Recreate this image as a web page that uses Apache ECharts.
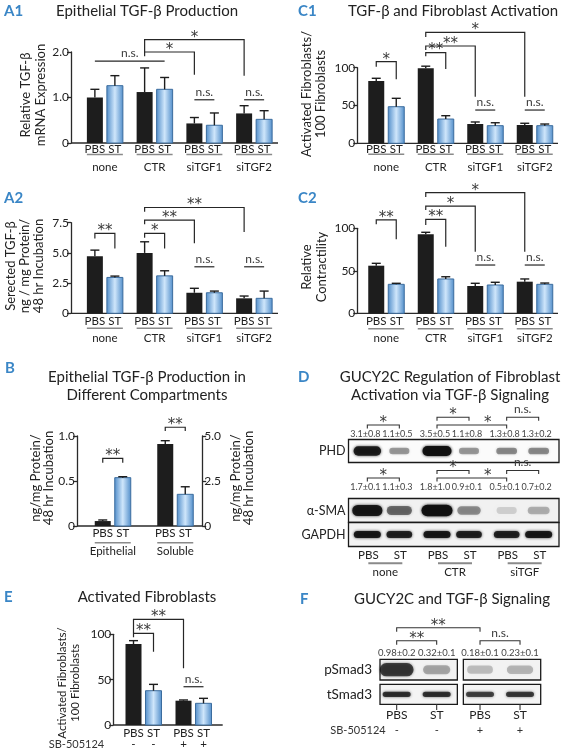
<!DOCTYPE html>
<html><head><meta charset="utf-8">
<script src="https://cdn.jsdelivr.net/npm/echarts@6.0.0/dist/echarts.min.js"></script>
<style>html,body{margin:0;padding:0;background:#fff;}#chart{width:563px;height:750px;}</style>
</head><body><div id="chart"></div>
<script>
// ================= DATA =================
const treatLabels = ['PBS', 'ST'];
const groupsA = ['none', 'CTR', 'siTGF1', 'siTGF2'];

// A1 Relative TGF-beta mRNA expression
const a1Pbs = [1.00, 1.12, 0.43, 0.65];
const a1PbsErr = [0.18, 0.53, 0.13, 0.17];
const a1St = [1.26, 1.18, 0.39, 0.52];
const a1StErr = [0.22, 0.26, 0.27, 0.19];
const a1Ticks = ['0', '1.0', '2.0'];
// significance: [fromBar, toBar, top, leftLegEnd, rightLegEnd, label] (bar index = group*2 + treatment)
const a1Sig = [[0, 3, 1.80, 1.80, 1.80, 'n.s.'], [2, 4, 2.00, 1.905, 1.50, '*'], [2, 6, 2.27, 2.00, 1.48, '*'],
               [4, 5, 0.95, 0.95, 0.95, 'n.s.'], [6, 7, 0.95, 0.95, 0.95, 'n.s.']];

// A2 Secreted TGF-beta
const a2Pbs = [4.73, 5.00, 1.70, 1.24];
const a2PbsErr = [0.50, 0.92, 0.37, 0.19];
const a2St = [2.97, 3.10, 1.70, 1.24];
const a2StErr = [0.11, 0.42, 0.14, 0.60];
const a2Ticks = ['0', '2.5', '5.0', '7.5'];
const a2Sig = [[0, 1, 6.61, 6.20, 5.37, '**'], [2, 3, 6.61, 6.25, 5.37, '*'], [2, 4, 7.71, 7.38, 5.79, '**'],
               [2, 6, 8.76, 8.40, 6.74, '**'], [4, 5, 3.85, 3.85, 3.85, 'n.s.'], [6, 7, 3.85, 3.85, 3.85, 'n.s.']];

// C1 Activated fibroblasts / 100 fibroblasts
const c1Pbs = [82.4, 99.2, 25.5, 24.2];
const c1PbsErr = [3.6, 2.8, 2.7, 2.3];
const c1St = [48.4, 32.1, 23.3, 23.3];
const c1StErr = [11.1, 4.4, 3.9, 2.2];
const cTicks = ['0', '50', '100'];
const c1Sig = [[0, 1, 108, 101.3, 84.7, '*'], [2, 3, 120, 115, 98.3, '**'], [2, 4, 128.7, 123.4, 61.6, '**'],
               [2, 6, 146.8, 140.6, 61.6, '*'], [4, 5, 44, 44, 44, 'n.s.'], [6, 7, 44, 44, 44, 'n.s.']];

// C2 Relative contractility
const c2Pbs = [56.0, 92.9, 32.1, 37.2];
const c2PbsErr = [2.8, 2.4, 3.2, 3.2];
const c2St = [34.1, 40.4, 33.3, 34.1];
const c2StErr = [1.2, 2.6, 3.2, 1.5];
const c2Sig = [[0, 1, 109.8, 104.7, 87.1, '**'], [2, 3, 110.6, 103.9, 78.4, '**'], [2, 4, 126.2, 121.5, 72.5, '*'],
               [2, 6, 141.9, 136.8, 72.5, '*'], [4, 5, 56.8, 56.8, 56.8, 'n.s.'], [6, 7, 56.8, 56.8, 56.8, 'n.s.']];

// B compartments
const groupsB = ['Epithelial', 'Soluble'];
const bEpithelial = [0.055, 0.537];   // PBS, ST (left axis)
const bEpithelialErr = [0.012, 0.011];
const bSoluble = [4.56, 1.76];        // PBS, ST (right axis)
const bSolubleErr = [0.18, 0.42];
const bLeftTicks = ['0', '0.5', '1.0'];
const bRightTicks = ['0', '2.5', '5.0'];
const bSig = [[0, 1, 0.752, 0.703, 0.703, '**'], [2, 3, 1.097, 1.056, 1.056, '**']];

// E Activated fibroblasts with SB-505124
const groupsE = ['-', '+'];
const ePbs = [89.3, 26.8];
const ePbsErr = [3.7, 0.8];
const eSt = [37.8, 23.9];
const eStErr = [7.0, 5.5];
const eSig = [[0, 1, 101.1, 96.7, 80.8, '**'], [0, 2, 116.5, 101.1, 62.5, '**'], [2, 3, 42.2, 42.2, 42.2, 'n.s.']];

// D western blot quantification (lanes: PBS, ST per group)
const dGroups = ['none', 'CTR', 'siTGF'];
const phdMean = [3.1, 1.1, 3.5, 1.1, 1.3, 1.3];
const phdSd = [0.8, 0.5, 0.5, 0.8, 0.8, 0.2];
const smaMean = [1.7, 1.1, 1.8, 0.9, 0.5, 0.7];
const smaSd = [0.1, 0.3, 1.0, 0.1, 0.1, 0.2];
const gapdhLevel = [1.0, 0.95, 1.0, 0.95, 0.95, 1.0];
// [fromLane, toLane, level(1 = upper), label, labelLanePos]
const dSig = [[0, 1, 0, '*', 0.5], [2, 3, 1, '*', 2.5], [2, 4, 0, '*', 3.5], [4, 5, 1, 'n.s.', 4.5]];

// F western blot
const fGroups = ['-', '+'];   // SB-505124
const pSmadMean = [0.98, 0.32, 0.18, 0.23];
const pSmadSd = [0.2, 0.1, 0.1, 0.1];
const tSmadLevel = [0.9, 0.9, 0.8, 0.85];
const fSig = [[0, 1, 0, '**'], [0, 2, 1, '**'], [2, 3, 0, 'n.s.']];

// ================= STYLE =================
const FF = 'Lato, "Open Sans", "DejaVu Sans", sans-serif';
const INK = '#222';
const AXIS = '#2a2a2a';
const BLACK = '#1d1d1d';
const BLUE_EDGE = '#3b6c9e';
const ERR = '#1d1d1d';
const ULINE = '#8a8a8a';
const SIGC = '#3a3a3a';
const LETTER = '#3a86c6';
const TITLE_FONT = '15px ' + FF;
const LETTER_FONT = 'bold 15px ' + FF;
const YNAME_FONT = '13px ' + FF;
const XFONT = '11.5px ' + FF;
const STAR_FONT = '15px "DejaVu Sans", sans-serif';
const NS_FONT = '12px ' + FF;
const NUM_FONT = '9px ' + FF;
const ROW_FONT = '12.5px ' + FF;
const STAR_DY = -2, NS_DY = -8;
const BW = 16, OFF = 10;

function txt(x, y, s, font, o) {
  o = o || {};
  const al = o.align || 'center', va = o.va || 'middle';
  const st = {text: s, font: font, fill: o.fill || INK, align: al, textAlign: al, verticalAlign: va, textVerticalAlign: va};
  if (o.lh) st.lineHeight = o.lh;
  return {type: 'text', x: x, y: y, rotation: o.rot || 0, silent: true, style: st};
}
function blueFill() {
  return new echarts.graphic.LinearGradient(0, 0, 1, 0, [
    {offset: 0, color: '#4f8cc9'}, {offset: 0.5, color: '#cfe6fb'}, {offset: 1, color: '#4f8cc9'}]);
}
function sigText(x, yLine, s) {
  const star = s.indexOf('*') >= 0;
  return txt(x, yLine + (star ? STAR_DY : NS_DY), s, star ? STAR_FONT : NS_FONT, {fill: SIGC});
}
function seg(x1, y1, x2, y2, c, w) {
  return {type: 'line', shape: {x1: x1, y1: y1, x2: x2, y2: y2}, style: {stroke: c, lineWidth: w, fill: 'none'}};
}
function pline(pts, c, w) {
  return {type: 'polyline', shape: {points: pts}, style: {stroke: c, lineWidth: w, fill: 'none'}};
}

function barGroupRenderer(cfg) {
  return function (params, api) {
    const cat = api.value(0);
    const base = api.coord([cat, 0]);
    const cs = params.coordSys;
    const kids = [];
    if (params.dataIndex === 0 && cfg.axL != null) {
      kids.push(seg(cs.x - cfg.axL, base[1], cs.x + cs.width + cfg.axR, base[1], AXIS, 1.3));
    }
    let xl = 0, xr = 0;
    for (let k = 0; k < 2; k++) {
      const v = api.value(1 + 2 * k), e = api.value(2 + 2 * k);
      const cx = base[0] + (k ? OFF : -OFF);
      const top = api.coord([cat, v])[1];
      const et = api.coord([cat, v + e])[1];
      if (k === 0) xl = cx - BW / 2; else xr = cx + BW / 2;
      kids.push({type: 'rect', shape: {x: cx - BW / 2, y: top, width: BW, height: base[1] - top},
        style: k ? {fill: blueFill(), stroke: BLUE_EDGE, lineWidth: 1} : {fill: BLACK}});
      kids.push(seg(cx, top, cx, et, ERR, 1.4));
      kids.push(seg(cx - 4.5, et, cx + 4.5, et, ERR, 1.4));
      kids.push(txt(cx, base[1] + cfg.labDy, treatLabels[k], XFONT));
      if (cfg.signDy) kids.push(txt(cx, base[1] + cfg.signDy, cfg.groups[cat], XFONT));
    }
    if (cfg.lineDy) kids.push(seg(xl, base[1] + cfg.lineDy, xr, base[1] + cfg.lineDy, ULINE, 1.6));
    if (cfg.grpDy) kids.push(txt(base[0], base[1] + cfg.grpDy, cfg.groups[cat], XFONT));
    if (params.dataIndex === 0 && cfg.extra) kids.push(cfg.extra(cs, base));
    return {type: 'group', children: kids};
  };
}
function bracketRenderer(list) {
  return function (params, api) {
    const b = list[params.dataIndex];
    const bx = i => api.coord([Math.floor(i / 2), 0])[0] + (i % 2 ? OFF : -OFF);
    const by = v => api.coord([0, v])[1];
    const x1 = bx(b[0]), x2 = bx(b[1]);
    const yt = by(b[2]), yl = by(b[3]), yr = by(b[4]);
    return {type: 'group', children: [
      pline([[x1, yl], [x1, yt], [x2, yt], [x2, yr]], '#262626', 1.2),
      sigText((x1 + x2) / 2, yt, b[5])
    ]};
  };
}
function grpData(p, pe, s, se) { return p.map((v, i) => [i, v, pe[i], s[i], se[i]]); }
function sigData(list) { return list.map(b => [b[0], b[2]]); }
function clamp(a) { return Math.max(0.06, Math.min(1, a)); }
function band(cx, cy, rx, ry, a) {
  const c = 'rgba(16,16,16,' + a.toFixed(3) + ')';
  return {type: 'rect', shape: {x: cx - rx, y: cy - ry, width: 2 * rx, height: 2 * ry, r: ry},
    style: {fill: c, shadowBlur: 3, shadowColor: c}};
}
function frame(x, y, w, h, bg) {
  return {type: 'rect', shape: {x: x, y: y, width: w, height: h}, style: {fill: bg, stroke: '#1a1a1a', lineWidth: 1.3}};
}

// ---- D blot renderer ----
const D_OFF = 16;
const DL = {hi: 12.3, lo: 20, leg: 3.4, phdNum: 29.5, phdBox: [34.5, 57.5], phdBand: 46,
  smaHi: 65.5, smaLo: 73, smaNum: 82.5, smaBox: [93.5, 117.5], smaBand: 105.5,
  gBox: [117.5, 141.5], gBand: 129.5, lane: 150, uline: 158.3, grp: 167.7};
function blotDRenderer(params, api) {
  const cs = params.coordSys, T = cs.y;
  const lx = j => api.coord([Math.floor(j / 2), 0])[0] + (j % 2 ? D_OFF : -D_OFF);
  const kids = [];
  if (params.dataIndex === 0) {
    const x0 = cs.x, w = cs.width + 1.5;
    kids.push(frame(x0, T + DL.phdBox[0], w, DL.phdBox[1] - DL.phdBox[0], '#fbfbfb'));
    kids.push(frame(x0, T + DL.smaBox[0], w, DL.smaBox[1] - DL.smaBox[0], '#f1f1f1'));
    kids.push(frame(x0, T + DL.gBox[0], w, DL.gBox[1] - DL.gBox[0], '#f3f3f3'));
    kids.push(txt(x0 - 3, T + DL.phdBand, 'PHD', ROW_FONT, {align: 'right'}));
    kids.push(txt(x0 - 3, T + DL.smaBand, 'α-SMA', ROW_FONT, {align: 'right'}));
    kids.push(txt(x0 - 3, T + DL.gBand, 'GAPDH', ROW_FONT, {align: 'right'}));
    [[DL.hi, DL.lo], [DL.smaHi, DL.smaLo]].forEach(function (lv) {
      dSig.forEach(function (b) {
        const y = T + (b[2] ? lv[0] : lv[1]);
        const xa = lx(b[0]), xb = lx(b[1]);
        kids.push(pline([[xa, y + DL.leg], [xa, y], [xb, y], [xb, y + DL.leg]], '#333', 1.1));
        const f = b[4], fl = Math.floor(f);
        const xm = lx(fl) + (f - fl) * (lx(fl + 1) - lx(fl));
        kids.push(sigText(xm, y, b[3]));
      });
    });
    dGroups.forEach(function (g, gi) {
      const c = api.coord([gi, 0])[0];
      kids.push(seg(c - 15, T + DL.uline, c + 19, T + DL.uline, ULINE, 2));
      kids.push(txt(c + 2, T + DL.grp, g, XFONT));
    });
  }
  const i = params.dataIndex;
  const x = lx(i);
  const phd = api.value(2), pSd = api.value(3), sma = api.value(4), sSd = api.value(5), g = api.value(6);
  const pn = phd / 3.5;
  kids.push(band(x, T + DL.phdBand, 8 + 6.5 * pn, 2.4 + 2.6 * pn, clamp(0.08 + 0.9 * pn)));
  kids.push(txt(x - 2, T + DL.phdNum, phd.toFixed(1) + '±' + pSd.toFixed(1), NUM_FONT, {fill: '#444'}));
  const sn = sma / 1.8;
  kids.push(band(x, T + DL.smaBand, 8 + 7.5 * sn, 2.5 + 3.3 * sn, clamp(1.15 * sn - 0.18)));
  kids.push(txt(x - 2, T + DL.smaNum, sma.toFixed(1) + '±' + sSd.toFixed(1), NUM_FONT, {fill: '#444'}));
  kids.push(band(x, T + DL.gBand, 13.5 * g, 3.6, clamp(0.9 * g)));
  kids.push(txt(x + 1, T + DL.lane, treatLabels[i % 2], XFONT));
  return {type: 'group', children: kids};
}

// ---- F blot renderer ----
const F_OFF = 20;
const FL = {hi: 12.7, lo: 25.7, leg: 4, num: 37.7, pBox: [44.3, 65], pBand: 54.7, tBox: [69.3, 89.3], tBand: 79.3,
  tick: [89.3, 95], lane: 100.5, sign: 115};
function blotFRenderer(params, api) {
  const cs = params.coordSys, T = cs.y;
  const lx = j => api.coord([Math.floor(j / 2), 0])[0] + (j % 2 ? F_OFF : -F_OFF);
  const kids = [];
  if (params.dataIndex === 0) {
    const bw = cs.width / fGroups.length;
    fGroups.forEach(function (g, gi) {
      const c = api.coord([gi, 0])[0];
      const xs = c - bw / 2 + 5, xe = c + bw / 2 - 1;
      kids.push(frame(xs, T + FL.pBox[0], xe - xs, FL.pBox[1] - FL.pBox[0], '#f2f2f2'));
      kids.push(frame(xs, T + FL.tBox[0], xe - xs, FL.tBox[1] - FL.tBox[0], '#f4f4f4'));
    });
    kids.push(txt(cs.x - 3, T + FL.pBand, 'pSmad3', '13.5px ' + FF, {align: 'right'}));
    kids.push(txt(cs.x - 3, T + FL.tBand, 'tSmad3', '13.5px ' + FF, {align: 'right'}));
    kids.push(txt(cs.x - 17, T + FL.sign, 'SB-505124', '11px ' + FF, {fill: '#333'}));
    fSig.forEach(function (b) {
      const y = T + (b[2] ? FL.hi : FL.lo);
      const xa = lx(b[0]), xb = lx(b[1]);
      kids.push(pline([[xa, y + FL.leg], [xa, y], [xb, y], [xb, y + FL.leg]], '#333', 1.1));
      kids.push(sigText((xa + xb) / 2, y, b[3]));
    });
  }
  const i = params.dataIndex, x = lx(i);
  const p = api.value(2), sd = api.value(3), t = api.value(4);
  kids.push(band(x, T + FL.pBand, 12 + 5 * p, 3.5 + 3.2 * p, clamp(0.1 + 0.62 * p)));
  kids.push(band(x, T + FL.tBand, 14, 2.6, clamp(0.85 * t)));
  kids.push(txt(x, T + FL.num, p.toFixed(2) + '±' + sd.toFixed(1), '9.5px ' + FF, {fill: '#444'}));
  kids.push(seg(x, T + FL.tick[0], x, T + FL.tick[1], '#333', 1.1));
  kids.push(txt(x, T + FL.lane, treatLabels[i % 2], '12px ' + FF));
  kids.push(txt(x, T + FL.sign, fGroups[Math.floor(i / 2)], '11px ' + FF, {fill: '#333'}));
  return {type: 'group', children: kids};
}

// ================= AXES =================
function xAx(grid, data) {
  return {type: 'category', gridIndex: grid, data: data, axisLine: {show: false}, axisTick: {show: false},
    axisLabel: {show: false}, splitLine: {show: false}};
}
function yAx(grid, max, step, ticks, offset, pos) {
  return {type: 'value', gridIndex: grid, min: 0, max: max, interval: step, position: pos || 'left', offset: offset,
    axisLine: {show: true, onZero: false, lineStyle: {color: AXIS, width: 1.3}},
    axisTick: {show: true, length: 4, lineStyle: {color: AXIS, width: 1.3}},
    axisLabel: {margin: 2, color: '#222', fontSize: 12, fontFamily: FF, formatter: function (v, i) { return ticks[i]; }},
    splitLine: {show: false}};
}
function g(left, top, width, height) {
  return {left: left, top: top, width: width, height: height, containLabel: false, outerBoundsMode: 'none'};
}

const option = {
  animation: false,
  backgroundColor: '#fff',
  textStyle: {fontFamily: FF},
  grid: [
    g(80, 52, 199, 91),          // A1
    g(80, 222.7, 199, 90.6),     // A2
    g(361.5, 67.7, 198, 75.6),   // C1
    g(361.5, 228.3, 198, 85),    // C2
    g(81.5, 436, 125, 90),       // B
    g(118.5, 634.3, 100, 90.7),  // E
    g(348.5, 405, 209, 170),     // D
    g(375, 615, 166.7, 125)      // F
  ],
  xAxis: [xAx(0, groupsA), xAx(1, groupsA), xAx(2, groupsA), xAx(3, groupsA), xAx(4, groupsB), xAx(5, groupsE),
          xAx(6, dGroups), xAx(7, fGroups)],
  yAxis: [
    yAx(0, 2, 1, a1Ticks, 9), yAx(1, 7.5, 2.5, a2Ticks, 9), yAx(2, 100, 50, cTicks, 4.2), yAx(3, 100, 50, cTicks, 4.2),
    yAx(4, 1, 0.5, bLeftTicks, 4.5), yAx(4, 5, 2.5, bRightTicks, -4.3, 'right'), yAx(5, 100, 50, cTicks, 5.2),
    {type: 'value', gridIndex: 6, min: 0, max: 1, show: false},
    {type: 'value', gridIndex: 7, min: 0, max: 1, show: false}
  ],
  series: [
    {type: 'custom', silent: true, xAxisIndex: 0, yAxisIndex: 0, data: grpData(a1Pbs, a1PbsErr, a1St, a1StErr),
      renderItem: barGroupRenderer({axL: 9, axR: -1, labDy: 6.5, lineDy: 11.5, grpDy: 24, groups: groupsA})},
    {type: 'custom', silent: true, xAxisIndex: 0, yAxisIndex: 0, data: sigData(a1Sig), renderItem: bracketRenderer(a1Sig)},
    {type: 'custom', silent: true, xAxisIndex: 1, yAxisIndex: 1, data: grpData(a2Pbs, a2PbsErr, a2St, a2StErr),
      renderItem: barGroupRenderer({axL: 9, axR: -1, labDy: 7.5, lineDy: 15, grpDy: 25.3, groups: groupsA})},
    {type: 'custom', silent: true, xAxisIndex: 1, yAxisIndex: 1, data: sigData(a2Sig), renderItem: bracketRenderer(a2Sig)},
    {type: 'custom', silent: true, xAxisIndex: 2, yAxisIndex: 2, data: grpData(c1Pbs, c1PbsErr, c1St, c1StErr),
      renderItem: barGroupRenderer({axL: 4.2, axR: -1.5, labDy: 6, lineDy: 11, grpDy: 23.5, groups: groupsA})},
    {type: 'custom', silent: true, xAxisIndex: 2, yAxisIndex: 2, data: sigData(c1Sig), renderItem: bracketRenderer(c1Sig)},
    {type: 'custom', silent: true, xAxisIndex: 3, yAxisIndex: 3, data: grpData(c2Pbs, c2PbsErr, c2St, c2StErr),
      renderItem: barGroupRenderer({axL: 4.2, axR: -1.5, labDy: 7.5, lineDy: 15.5, grpDy: 25, groups: groupsA})},
    {type: 'custom', silent: true, xAxisIndex: 3, yAxisIndex: 3, data: sigData(c2Sig), renderItem: bracketRenderer(c2Sig)},
    {type: 'custom', silent: true, xAxisIndex: 4, yAxisIndex: 4,
      data: [[0, bEpithelial[0], bEpithelialErr[0], bEpithelial[1], bEpithelialErr[1]]],
      renderItem: barGroupRenderer({axL: 4.5, axR: -4.3, labDy: 7.3, lineDy: 16.7, grpDy: 25.7, groups: groupsB})},
    {type: 'custom', silent: true, xAxisIndex: 4, yAxisIndex: 5,
      data: [[1, bSoluble[0], bSolubleErr[0], bSoluble[1], bSolubleErr[1]]],
      renderItem: barGroupRenderer({labDy: 7.3, lineDy: 16.7, grpDy: 25.7, groups: groupsB})},
    {type: 'custom', silent: true, xAxisIndex: 4, yAxisIndex: 4, data: sigData(bSig), renderItem: bracketRenderer(bSig)},
    {type: 'custom', silent: true, xAxisIndex: 5, yAxisIndex: 6, data: grpData(ePbs, ePbsErr, eSt, eStErr),
      renderItem: barGroupRenderer({axL: 5.2, axR: 4.2, labDy: 8.3, signDy: 19.3, groups: groupsE,
        extra: function (cs, base) { return txt(cs.x - 42, base[1] + 19.3, 'SB-505124', '11px ' + FF, {fill: '#333'}); }})},
    {type: 'custom', silent: true, xAxisIndex: 5, yAxisIndex: 6, data: sigData(eSig), renderItem: bracketRenderer(eSig)},
    {type: 'custom', silent: true, xAxisIndex: 6, yAxisIndex: 7,
      data: phdMean.map((v, i) => [Math.floor(i / 2), i % 2, v, phdSd[i], smaMean[i], smaSd[i], gapdhLevel[i]]),
      renderItem: blotDRenderer},
    {type: 'custom', silent: true, xAxisIndex: 7, yAxisIndex: 8,
      data: pSmadMean.map((v, i) => [Math.floor(i / 2), i % 2, v, pSmadSd[i], tSmadLevel[i]]),
      renderItem: blotFRenderer}
  ],
  graphic: {elements: [
    txt(4, 11, 'A1', LETTER_FONT, {align: 'left', fill: LETTER}),
    txt(147, 11, 'Epithelial TGF-β Production', TITLE_FONT),
    txt(33.5, 95, 'Relative TGF-β\nmRNA Expression', YNAME_FONT, {rot: Math.PI / 2, lh: 15}),
    txt(4, 198, 'A2', LETTER_FONT, {align: 'left', fill: LETTER}),
    txt(24.5, 266, 'Serected TGF-β\nng / mg Protein/\n48 hr Incubation', YNAME_FONT, {rot: Math.PI / 2, lh: 14}),
    txt(298, 11, 'C1', LETTER_FONT, {align: 'left', fill: LETTER}),
    txt(453, 11, 'TGF-β and Fibroblast Activation', TITLE_FONT),
    txt(314, 94, 'Activated Fibroblasts/\n100 Fibroblasts', YNAME_FONT, {rot: Math.PI / 2, lh: 14}),
    txt(298, 198, 'C2', LETTER_FONT, {align: 'left', fill: LETTER}),
    txt(314, 267, 'Relative\nContractility', YNAME_FONT, {rot: Math.PI / 2, lh: 15}),
    txt(5, 368, 'B', LETTER_FONT, {align: 'left', fill: LETTER}),
    txt(147, 385.7, 'Epithelial TGF-β Production in\nDifferent Compartments', TITLE_FONT, {lh: 18}),
    txt(42.5, 478, 'ng/mg Protein/\n48 hr Incubation', YNAME_FONT, {rot: Math.PI / 2, lh: 13}),
    txt(242.5, 478, 'ng/mg Protein/\n48 hr Incubation', YNAME_FONT, {rot: Math.PI / 2, lh: 13}),
    txt(298, 377, 'D', LETTER_FONT, {align: 'left', fill: LETTER}),
    txt(450, 386, 'GUCY2C Regulation of Fibroblast\nActivation via TGF-β Signaling', TITLE_FONT, {lh: 18}),
    txt(4, 597, 'E', LETTER_FONT, {align: 'left', fill: LETTER}),
    txt(147, 597, 'Activated Fibroblasts', TITLE_FONT),
    txt(69, 683, 'Activated Fibroblasts/\n100 Fibroblasts', '11.5px ' + FF, {rot: Math.PI / 2, lh: 12.5}),
    txt(300, 599, 'F', LETTER_FONT, {align: 'left', fill: LETTER}),
    txt(452, 599, 'GUCY2C and TGF-β Signaling', TITLE_FONT)
  ]}
};

const chart = echarts.init(document.getElementById('chart'), null, {renderer: 'canvas', width: 563, height: 750});
chart.setOption(option);
</script>
</body></html>
